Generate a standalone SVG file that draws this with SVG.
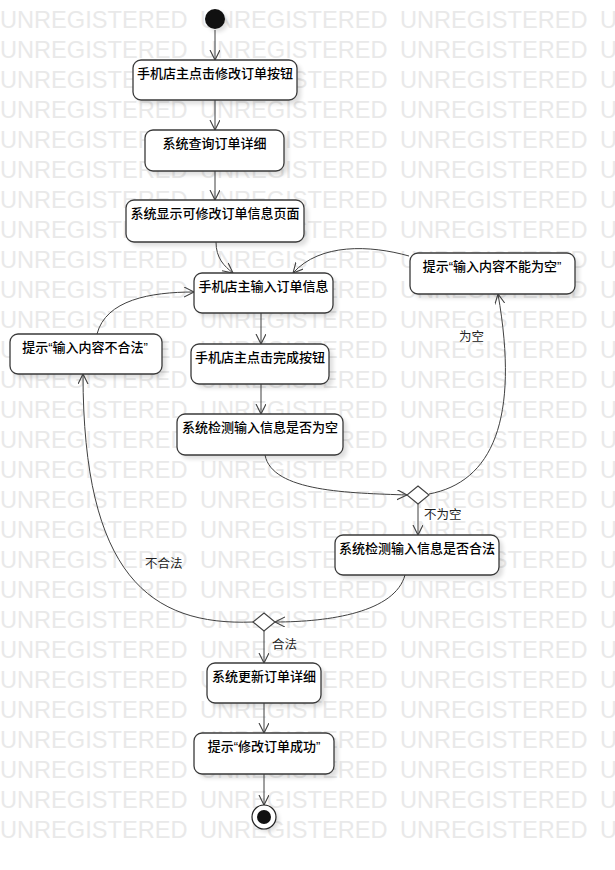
<svg xmlns="http://www.w3.org/2000/svg" xmlns:xlink="http://www.w3.org/1999/xlink" width="615" height="870" viewBox="0 0 615 870">
<style>
.wm{font-family:"Liberation Sans",Arial,sans-serif;font-size:23.6px;fill:#e9e9e9}
.box{fill:#fff;stroke:#3a3a3a;stroke-width:1.3}
.sh{fill:#000;opacity:0.13;filter:url(#blur)}
.t{font-family:"Noto Sans CJK SC","Noto Sans",sans-serif;font-size:13px;font-weight:500;fill:#000;text-anchor:middle}
.q{font-family:"Liberation Sans",Arial,sans-serif}
.lb{font-family:"Noto Sans CJK SC","Noto Sans",sans-serif;font-size:12.5px;fill:#222}
.c{fill:none;stroke:#404040;stroke-width:1}
.dia{fill:#fff;stroke:#404040;stroke-width:1.1}
</style>
<defs>
<filter id="blur" x="-20%" y="-20%" width="140%" height="140%"><feGaussianBlur stdDeviation="2"/></filter>
<marker id="arr" markerWidth="12" markerHeight="12" refX="10" refY="5" orient="auto" markerUnits="userSpaceOnUse">
<path d="M0,0 L10,5 L0,10" fill="none" stroke="#404040" stroke-width="1.1"/>
</marker>
<g id="wmrow">
<text class="wm" x="0" y="0">UNREGISTERED</text>
<text class="wm" x="200" y="0">UNREGISTERED</text>
<text class="wm" x="400" y="0">UNREGISTERED</text>
<text class="wm" x="600" y="0">UNREGISTERED</text>
</g>
</defs>
<rect width="615" height="870" fill="#fff"/>
<g id="watermark">
<use xlink:href="#wmrow" y="28"/><use xlink:href="#wmrow" y="58"/><use xlink:href="#wmrow" y="88"/><use xlink:href="#wmrow" y="118"/>
<use xlink:href="#wmrow" y="148"/><use xlink:href="#wmrow" y="178"/><use xlink:href="#wmrow" y="208"/><use xlink:href="#wmrow" y="238"/>
<use xlink:href="#wmrow" y="268"/><use xlink:href="#wmrow" y="298"/><use xlink:href="#wmrow" y="328"/><use xlink:href="#wmrow" y="358"/>
<use xlink:href="#wmrow" y="388"/><use xlink:href="#wmrow" y="418"/><use xlink:href="#wmrow" y="448"/><use xlink:href="#wmrow" y="478"/>
<use xlink:href="#wmrow" y="508"/><use xlink:href="#wmrow" y="538"/><use xlink:href="#wmrow" y="568"/><use xlink:href="#wmrow" y="598"/>
<use xlink:href="#wmrow" y="628"/><use xlink:href="#wmrow" y="658"/><use xlink:href="#wmrow" y="688"/><use xlink:href="#wmrow" y="718"/>
<use xlink:href="#wmrow" y="748"/><use xlink:href="#wmrow" y="778"/><use xlink:href="#wmrow" y="808"/><use xlink:href="#wmrow" y="838"/>
</g>

<g id="connectors">
<path class="c" d="M215,30 L215,60" marker-end="url(#arr)"/>
<path class="c" d="M215,100 L215,130" marker-end="url(#arr)"/>
<path class="c" d="M215,171 L215,200" marker-end="url(#arr)"/>
<path class="c" d="M216,242 C216,258 224,266 233,273" marker-end="url(#arr)"/>
<path class="c" d="M409,256 C370,245 320,243 293,273" marker-end="url(#arr)"/>
<path class="c" d="M97,334 C106,300 150,292 194,292" marker-end="url(#arr)"/>
<path class="c" d="M261,313 L261,344" marker-end="url(#arr)"/>
<path class="c" d="M261,384 L261,414" marker-end="url(#arr)"/>
<path class="c" d="M265,455 C272,492 350,493 407,495" marker-end="url(#arr)"/>
<path class="c" d="M429,494 C492,482 520,420 498,294" marker-end="url(#arr)"/>
<path class="c" d="M418,504 L418,535" marker-end="url(#arr)"/>
<path class="c" d="M405,575 C395,612 330,622 275,622" marker-end="url(#arr)"/>
<path class="c" d="M253,622 C150,626 83,575 83,374" marker-end="url(#arr)"/>
<path class="c" d="M264,631 L264,663" marker-end="url(#arr)"/>
<path class="c" d="M264,703 L264,733" marker-end="url(#arr)"/>
<path class="c" d="M264,774 L264,805" marker-end="url(#arr)"/>
<text class="lb" x="459" y="341">为空</text>
<text class="lb" x="424" y="519">不为空</text>
<text class="lb" x="145" y="568">不合法</text>
<text class="lb" x="272" y="649">合法</text>
</g>

<g id="start">
<circle cx="218" cy="22" r="10" class="sh"/>
<circle cx="215" cy="19" r="10" fill="#111"/>
</g>
<g id="n1">
<rect class="sh" x="137" y="64" width="164" height="40" rx="8"/>
<rect class="box" x="133" y="60" width="164" height="40" rx="8"/>
<text class="t" x="215" y="78">手机店主点击修改订单按钮</text>
</g>
<g id="n2">
<rect class="sh" x="149" y="134" width="139" height="41" rx="8"/>
<rect class="box" x="145" y="130" width="139" height="41" rx="8"/>
<text class="t" x="214.5" y="148">系统查询订单详细</text>
</g>
<g id="n3">
<rect class="sh" x="130" y="204" width="178" height="42" rx="8"/>
<rect class="box" x="126" y="200" width="178" height="42" rx="8"/>
<text class="t" x="215" y="218">系统显示可修改订单信息页面</text>
</g>
<g id="n4">
<rect class="sh" x="198" y="277" width="139" height="40" rx="8"/>
<rect class="box" x="194" y="273" width="139" height="40" rx="8"/>
<text class="t" x="263.5" y="291">手机店主输入订单信息</text>
</g>
<g id="nInvalid">
<rect class="sh" x="14" y="338" width="152" height="40" rx="8"/>
<rect class="box" x="10" y="334" width="152" height="40" rx="8"/>
<text class="t" x="85" y="352">提示<tspan class="q">“</tspan>输入内容不合法<tspan class="q">”</tspan></text>
</g>
<g id="n5">
<rect class="sh" x="195" y="348" width="138" height="40" rx="8"/>
<rect class="box" x="191" y="344" width="138" height="40" rx="8"/>
<text class="t" x="260" y="362">手机店主点击完成按钮</text>
</g>
<g id="n6">
<rect class="sh" x="181" y="418" width="166" height="41" rx="8"/>
<rect class="box" x="177" y="414" width="166" height="41" rx="8"/>
<text class="t" x="260" y="432">系统检测输入信息是否为空</text>
</g>
<g id="nEmpty">
<rect class="sh" x="414" y="257" width="165" height="41" rx="8"/>
<rect class="box" x="410" y="253" width="165" height="41" rx="8"/>
<text class="t" x="492" y="271">提示<tspan class="q">“</tspan>输入内容不能为空<tspan class="q">”</tspan></text>
</g>
<g id="d1">
<polygon class="dia" points="418,486 429,495 418,504 407,495"/>
</g>
<g id="n7">
<rect class="sh" x="339" y="539" width="164" height="40" rx="8"/>
<rect class="box" x="335" y="535" width="164" height="40" rx="8"/>
<text class="t" x="417" y="553">系统检测输入信息是否合法</text>
</g>
<g id="d2">
<polygon class="dia" points="264,613 275,622 264,631 253,622"/>
</g>
<g id="n8">
<rect class="sh" x="211" y="667" width="114" height="40" rx="8"/>
<rect class="box" x="207" y="663" width="114" height="40" rx="8"/>
<text class="t" x="264" y="681">系统更新订单详细</text>
</g>
<g id="n9">
<rect class="sh" x="198" y="737" width="140" height="41" rx="8"/>
<rect class="box" x="194" y="733" width="140" height="41" rx="8"/>
<text class="t" x="264" y="751">提示<tspan class="q">“</tspan>修改订单成功<tspan class="q">”</tspan></text>
</g>
<g id="end">
<circle cx="267" cy="820" r="12" class="sh"/>
<circle cx="264" cy="817" r="12" fill="#fff" stroke="#222" stroke-width="1.2"/>
<circle cx="264" cy="817" r="7" fill="#111"/>
</g>
</svg>
